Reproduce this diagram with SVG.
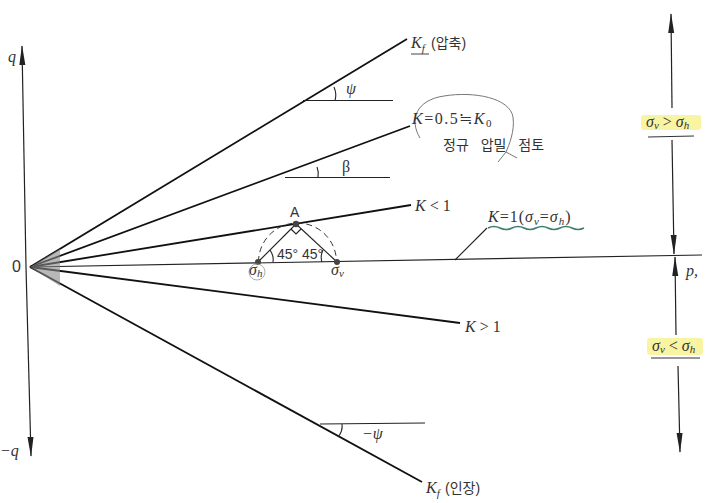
<svg xmlns="http://www.w3.org/2000/svg" width="714" height="503" viewBox="0 0 714 503">
<defs>
<marker id="ah" viewBox="0 0 20 8" refX="19" refY="4" markerWidth="20" markerHeight="8" markerUnits="userSpaceOnUse" orient="auto-start-reverse">
<path d="M0,1 L20,4 L0,7 Z" fill="#222"/>
</marker>
</defs>
<style>
.ax{stroke:#222;stroke-width:1.2;fill:none}
.ln{stroke:#111;stroke-width:1.8;fill:none}
.th{stroke:#222;stroke-width:1.1;fill:none}
.m{font-family:"Liberation Serif",serif;font-style:italic;fill:#333;font-size:16px}
.r{font-family:"Liberation Serif",serif;fill:#333;font-size:16px}
.kr{font-family:"Liberation Sans","Noto Sans CJK KR",sans-serif;fill:#333;font-size:14px}
.sub{font-size:11px}
.hl{fill:#f7f07a;opacity:0.7}
</style>
<rect width="714" height="503" fill="#fff"/>

<g id="connectors">
<line class="ax" x1="26" y1="267" x2="22" y2="46" marker-end="url(#ah)"/>
<line class="ax" x1="26" y1="267" x2="31" y2="456" marker-end="url(#ah)"/>
<line class="ax" x1="30" y1="267" x2="702" y2="255"/>
<line class="ax" x1="672" y1="108" x2="671" y2="14" marker-end="url(#ah)"/>
<line class="ax" x1="672" y1="140" x2="674" y2="254" marker-end="url(#ah)"/>
<line class="ax" x1="676" y1="335" x2="675" y2="257" marker-end="url(#ah)"/>
<line class="ax" x1="678" y1="366" x2="680" y2="452" marker-end="url(#ah)"/>
<line class="ln" x1="30" y1="267" x2="407" y2="39"/>
<line class="ln" x1="30" y1="267" x2="410" y2="126"/>
<line class="ln" x1="30" y1="267" x2="411" y2="205"/>
<line class="ln" x1="30" y1="267" x2="460" y2="323"/>
<line class="ln" x1="30" y1="267" x2="422" y2="482"/>
<path d="M30,267 L60,249 L60,286 Z" fill="#888" opacity="0.6"/>
<line class="th" x1="303" y1="100.5" x2="393" y2="100.5"/>
<path class="th" d="M334,87 Q337,94 335,100.5"/>
<line class="th" x1="285" y1="177.5" x2="390" y2="177.5"/>
<path class="th" d="M317,167 Q319,172 318,177.5"/>
<line class="th" x1="320" y1="424" x2="425" y2="423"/>
<path class="th" d="M342,424 Q343,431 338,437"/>
<path d="M258.5,262 A39,39 0 0 1 336.5,262" fill="none" stroke="#333" stroke-width="1" stroke-dasharray="6,4"/>
<line class="th" x1="258" y1="262" x2="296" y2="224"/>
<line class="th" x1="337" y1="262" x2="296" y2="224"/>
<path class="th" d="M291,229 L296,234 L301,229"/>
<path class="th" d="M270,250 Q274,256 273,262"/>
<path class="th" d="M323,250 Q320,256 322,262"/>
<circle cx="296" cy="224" r="3.2" fill="#444"/>
<circle cx="258" cy="262" r="3" fill="#444"/>
<circle cx="337" cy="262" r="3" fill="#444"/>
<line class="th" x1="455" y1="260" x2="487" y2="228"/>
<path d="M420,138 C409,120 416,100 444,96 C474,91 510,98 513,117 C515,131 509,145 506,152 L517,158 M506,152 L498,162" fill="none" stroke="#777" stroke-width="1"/>
<path d="M488,228 q6,-3 12,0 t12,0 t12,0 t12,0 t12,0 t12,0 t12,0 t12,0" fill="none" stroke="#3c7d6e" stroke-width="1.6"/>
</g>

<g id="axis-labels">
<text class="m" x="8" y="62" font-size="15">q</text>
<text class="m" x="0" y="456" font-size="15">−q</text>
<text class="r" x="12" y="272" font-size="15" style="font-family:'Liberation Sans',sans-serif">0</text>
<text class="m" x="686" y="276" font-size="15">p,</text>
</g>

<g id="node-kf-comp">
<text class="m" x="411" y="48" font-size="17">K<tspan class="sub" dy="4">f</tspan></text>
<line x1="411" y1="54" x2="429" y2="54" stroke="#444" stroke-width="1"/>
<text class="kr" x="431" y="48">(압축)</text>
</g>

<g id="node-k0">
<text class="m" x="412" y="124" font-size="17" letter-spacing="1.5">K<tspan style="font-style:normal">=0.5≒</tspan>K<tspan class="sub" dy="3" style="font-style:normal">0</tspan></text>
<text class="kr" x="443" y="150" font-size="16" word-spacing="8">정규 압밀 점토</text>
</g>

<g id="node-angles">
<text class="m" x="346" y="94" font-size="15">ψ</text>
<text class="r" x="342" y="172" font-size="15">β</text>
<text class="m" x="362" y="439" font-size="15">−ψ</text>
</g>

<g id="node-kless">
<text class="m" x="415" y="211">K<tspan style="font-style:normal"> &lt; 1</tspan></text>
</g>

<g id="node-k1">
<text class="m" x="488" y="222" letter-spacing="1">K<tspan style="font-style:normal">=1(</tspan>σ<tspan class="sub" dy="3">v</tspan><tspan dy="-3" style="font-style:normal">=</tspan>σ<tspan class="sub" dy="3">h</tspan><tspan dy="-3" style="font-style:normal">)</tspan></text>
</g>

<g id="node-mohr">
<text class="kr" x="290" y="217" font-size="13">A</text>
<text class="kr" x="277" y="259" font-size="13">45°</text>
<text class="kr" x="302" y="259" font-size="13">45°</text>
<circle cx="257" cy="272" r="8" fill="none" stroke="#999" stroke-width="0.8"/>
<text class="m" x="249" y="275" font-size="13">σ<tspan class="sub" dy="2" font-size="9">h</tspan></text>
<text class="m" x="331" y="275" font-size="13">σ<tspan class="sub" dy="2" font-size="9">v</tspan></text>
</g>

<g id="node-kgreater">
<text class="m" x="465" y="332">K<tspan style="font-style:normal"> &gt; 1</tspan></text>
</g>

<g id="node-kf-tens">
<text class="m" x="426" y="493" font-size="17">K<tspan class="sub" dy="4">f</tspan></text>
<text class="kr" x="445" y="493">(인장)</text>
</g>

<g id="node-sv-gt">
<rect class="hl" x="641" y="115" width="60" height="15" rx="3"/>
<text class="m" x="646" y="127" font-size="14">σ<tspan class="sub" dy="2" font-size="9">v</tspan><tspan dy="-2" style="font-style:normal"> &gt; </tspan>σ<tspan class="sub" dy="2" font-size="9">h</tspan></text>
<line x1="648" y1="137" x2="694" y2="136" stroke="#333" stroke-width="1.2"/>
</g>

<g id="node-sv-lt">
<rect class="hl" x="647" y="338" width="56" height="17" rx="3"/>
<text class="m" x="652" y="351" font-size="14">σ<tspan class="sub" dy="2" font-size="9">v</tspan><tspan dy="-2" style="font-style:normal"> &lt; </tspan>σ<tspan class="sub" dy="2" font-size="9">h</tspan></text>
<line x1="651" y1="358" x2="700" y2="358" stroke="#333" stroke-width="1.2"/>
</g>
</svg>
